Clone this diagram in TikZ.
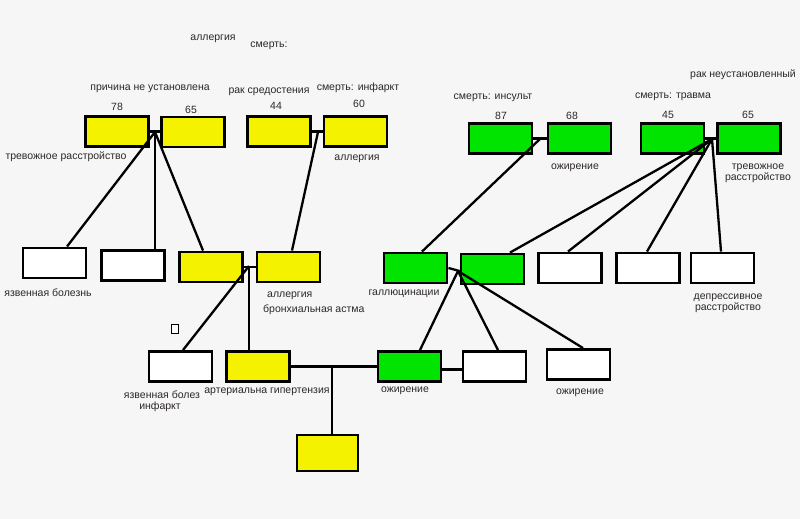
\documentclass[tikz,border=0pt]{standalone}
\usepackage{fontspec}
\setmainfont{Liberation Sans}
\usetikzlibrary{calc}
\definecolor{bg}{RGB}{246,246,246}
\definecolor{yel}{RGB}{245,242,0}
\definecolor{grn}{RGB}{0,228,0}
\definecolor{txt}{RGB}{45,40,40}
\begin{document}
\begin{tikzpicture}[x=1pt,y=-1pt,
  box/.style={draw=black,line width=2.9pt,minimum width=63pt,minimum height=30pt,inner sep=0pt,rectangle},
  ybox/.style={box,fill=yel},
  gbox/.style={box,fill=grn},
  wbox/.style={box,fill=white},
  conn/.style={draw=black,line width=2.3pt},
  lbl/.style={text=txt,font=\fontsize{10.5}{11}\selectfont,inner sep=0pt,yshift=-1.5pt},
  lbl2/.style={lbl,align=center,font=\fontsize{10.5}{10.5}\selectfont}]
\fill[bg] (0,0) rectangle (800,519);
\useasboundingbox (0,0) rectangle (800,519);

% top row
\node[ybox] (y1) at (117,131.5) {};
\node[ybox] (y2) at (193,132) {};
\node[ybox] (y3) at (279,131.5) {};
\node[ybox] (y4) at (355.5,131.5) {};
\node[gbox] (g1) at (500.5,138.5) {};
\node[gbox] (g2) at (579.5,138.5) {};
\node[gbox] (g3) at (672.5,138.5) {};
\node[gbox] (g4) at (749,138.5) {};
% second row
\node[wbox] (w1) at (54.5,263) {};
\node[wbox] (w2) at (133,265.5) {};
\node[ybox] (y5) at (211,267) {};
\node[ybox] (y6) at (288.5,267) {};
\node[gbox] (g5) at (415.5,268) {};
\node[gbox] (g6) at (492.5,269) {};
\node[wbox] (w3) at (570,268) {};
\node[wbox] (w4) at (648,268) {};
\node[wbox] (w5) at (722.5,268) {};
% third row
\node[wbox] (w6) at (180.5,366.5) {};
\node[ybox] (y7) at (258,366.5) {};
\node[gbox] (g7) at (409.5,366.5) {};
\node[wbox] (w7) at (494.5,366.5) {};
\node[wbox] (w8) at (578.5,364.5) {};
\node[ybox,minimum width=61pt,minimum height=36pt] (y8) at (327.5,453) {};
\node[draw=black,line width=1.6pt,minimum width=7pt,minimum height=9pt,inner sep=0pt,fill=white] (sq) at (175,329) {};

% junctions
\coordinate (j1) at (155,132);
\coordinate (j2) at (318,132);
\coordinate (j3) at (540,139);
\coordinate (j4) at (712,139);
\coordinate (j5) at (249,266);
\coordinate (j6) at (458,271);
\coordinate (j7) at (332,366.5);

% couple lines
\draw[conn] (y1.east) -- (y2.west |- y1.east);
\draw[conn] (y3.east) -- (y4.west);
\draw[conn] (g1.east) -- (g2.west);
\draw[conn] (g3.east) -- (g4.west);
\draw[conn] (y5.east) -- (y6.west);
\draw[conn] (g5.east) -- ($(g6.west)+(0,2)$);
\draw[conn] (y7.east) -- (g7.west);
\draw[conn] ($(g7.east)+(0,3)$) -- ($(w7.west)+(0,3)$);
\draw[conn] (j7) -- (j7 |- y8.north);

% descent lines
\draw[conn] (j1) -- ($(w1.north)+(12.5,0)$);
\draw[conn] (j1) -- ($(w2.north)+(22,0)$);
\draw[conn] (j1) -- ($(y5.north)+(-8,0)$);
\draw[conn] (j2) -- ($(y6.north)+(3.5,0)$);
\draw[conn] (j3) -- ($(g5.north)+(6.5,0)$);
\draw[conn] (j4) -- ($(g6.north)+(17.5,0)$);
\draw[conn] (j4) -- ($(w3.north)+(-2,0)$);
\draw[conn] (j4) -- ($(w4.north)+(-1,0)$);
\draw[conn] (j4) -- ($(w5.north)+(-1.5,0)$);
\draw[conn] (j5) -- ($(w6.north)+(2.5,0)$);
\draw[conn] (j5) -- ($(y7.north)+(-9,0)$);
\draw[conn] (j6) -- ($(g7.north)+(10.5,0)$);
\draw[conn] (j6) -- ($(w7.north)+(3.5,0)$);
\draw[conn] (j6) -- ($(w8.north)+(4.5,0)$);

% labels
\node[lbl] (t1) at (213,37) {аллергия};
\node[lbl] (t2) at (269,44) {смерть:};
\node[lbl] (t3) at (150,87) {причина не установлена};
\node[lbl] (t4) at (117,105) {78};
\node[lbl] (t5) at (191,108) {65};
\node[lbl] (t6) at (269,90) {рак средостения};
\node[lbl] (t7) at (276,104) {44};
\node[lbl] (t8) at (358,86) {смерть: инфаркт};
\node[lbl] (t9) at (359,102) {60};
\node[lbl] (t10) at (66,155) {тревожное расстройство};
\node[lbl] (t11) at (357,157) {аллергия};
\node[lbl] (t12) at (493,96) {смерть: инсульт};
\node[lbl] (t13) at (501,114) {87};
\node[lbl] (t14) at (572,114) {68};
\node[lbl] (t15) at (575,166) {ожирение};
\node[lbl] (t16) at (743,73) {рак неустановленный};
\node[lbl] (t17) at (673,95) {смерть: травма};
\node[lbl] (t18) at (668,113) {45};
\node[lbl] (t19) at (748,113) {65};
\node[lbl2] (t20) at (758,172) {тревожное\\расстройство};
\node[lbl] (t21) at (48,291) {язвенная болезнь};
\node[lbl,anchor=west] (t22) at (267,294) {аллергия};
\node[lbl,anchor=west] (t23) at (263,308) {бронхиальная астма};
\node[lbl] (t24) at (404,292) {галлюцинации};
\node[lbl2] (t25) at (728,302) {депрессивное\\расстройство};
\node[lbl] (t26) at (162,393) {язвенная болез};
\node[lbl] (t27) at (160,405) {инфаркт};
\node[lbl] (t28) at (267,390) {артериальна гипертензия};
\node[lbl] (t29) at (405,389) {ожирение};
\node[lbl] (t30) at (580,391) {ожирение};
\end{tikzpicture}
\end{document}
